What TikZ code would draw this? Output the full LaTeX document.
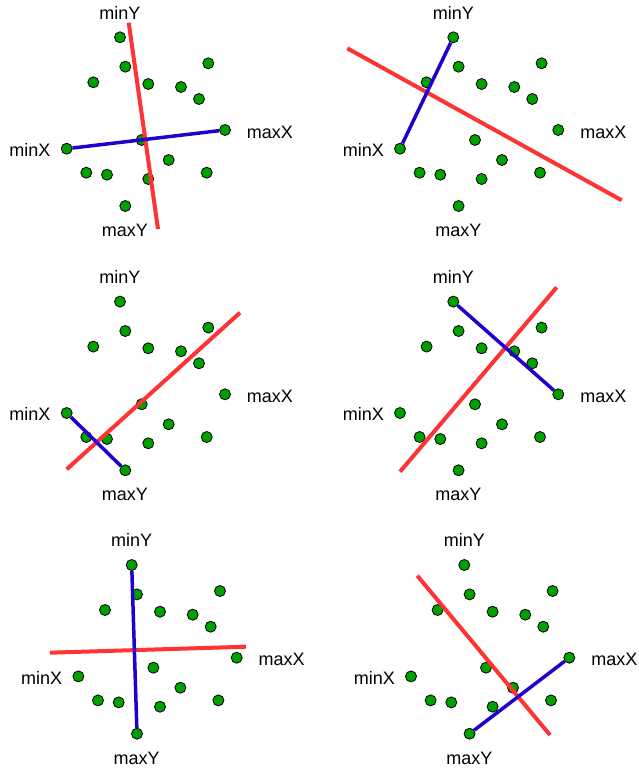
\documentclass[tikz,border=0pt]{standalone}
\usepackage{fontspec}
\setmainfont{Liberation Sans}
\definecolor{ptgreen}{RGB}{0,160,0}
\definecolor{lnred}{RGB}{255,51,51}
\definecolor{lnblue}{RGB}{34,0,204}
\tikzset{
  pt/.style={circle,draw=black,line width=0.8pt,fill=ptgreen,minimum size=11pt,inner sep=0pt},
  lbl/.style={font=\fontsize{18}{21}\selectfont,inner sep=0pt},
  redline/.style={draw=lnred,line width=4pt},
  blueline/.style={draw=lnblue,line width=3.5pt}
}
\newcommand\ptset[1]{%
  \node[pt] (#1minY) at (120,37.3) {};
  \node[pt] (#1a) at (125.3,66.7) {};
  \node[pt] (#1b) at (93.3,82.3) {};
  \node[pt] (#1c) at (148.3,84) {};
  \node[pt] (#1d) at (181,87) {};
  \node[pt] (#1e) at (208.3,63.3) {};
  \node[pt] (#1f) at (199,99) {};
  \node[pt] (#1maxX) at (225,130) {};
  \node[pt] (#1minX) at (66.7,148.7) {};
  \node[pt] (#1g) at (141.7,140) {};
  \node[pt] (#1h) at (168.7,160) {};
  \node[pt] (#1i) at (86.3,172.7) {};
  \node[pt] (#1j) at (107,174.7) {};
  \node[pt] (#1k) at (148.3,179) {};
  \node[pt] (#1l) at (206.7,172.7) {};
  \node[pt] (#1maxY) at (125.3,206) {};
  \node[lbl] (#1LminY) at (120,12.7) {minY};
  \node[lbl] (#1LmaxY) at (125,230.5) {maxY};
  \node[lbl] (#1LminX) at (30,150) {minX};
  \node[lbl] (#1LmaxX) at (270,132) {maxX};
}
\begin{document}
\begin{tikzpicture}[x=1pt,y=-1pt]
\useasboundingbox (0,0) rectangle (638,772);
% panel 1
\begin{scope}
  \ptset{A}
  \coordinate (Ar1) at (128.7,22.7);
  \coordinate (Ar2) at (158,229);
  \draw[redline] (Ar1) -- (Ar2);
  \draw[blueline] (AminX) -- (AmaxX);
\end{scope}
% panel 2
\begin{scope}[shift={(333.3,0)}]
  \ptset{B}
  \coordinate (Br1) at (14,48.3);
  \coordinate (Br2) at (288.4,200.3);
  \draw[redline] (Br1) -- (Br2);
  \draw[blueline] (BminX) -- (BminY);
\end{scope}
% panel 3
\begin{scope}[shift={(0,264.3)}]
  \ptset{C}
  \coordinate (Cr1) at (66.7,205);
  \coordinate (Cr2) at (240,48.4);
  \draw[redline] (Cr1) -- (Cr2);
  \draw[blueline] (CminX) -- (CmaxY);
\end{scope}
% panel 4
\begin{scope}[shift={(333.3,264.3)}]
  \ptset{D}
  \coordinate (Dr1) at (66.7,207.4);
  \coordinate (Dr2) at (223.4,23);
  \draw[redline] (Dr1) -- (Dr2);
  \draw[blueline] (DminY) -- (DmaxX);
\end{scope}
% panel 5
\begin{scope}[shift={(11.7,527.7)}]
  \ptset{E}
  \coordinate (Er1) at (38.3,125);
  \coordinate (Er2) at (234.3,119);
  \draw[redline] (Er1) -- (Er2);
  \draw[blueline] (EminY) -- (EmaxY);
\end{scope}
% panel 6
\begin{scope}[shift={(344.3,527.7)}]
  \ptset{F}
  \coordinate (Fr1) at (73,48);
  \coordinate (Fr2) at (205.7,207.3);
  \draw[redline] (Fr1) -- (Fr2);
  \draw[blueline] (FmaxY) -- (FmaxX);
\end{scope}
\end{tikzpicture}
\end{document}
